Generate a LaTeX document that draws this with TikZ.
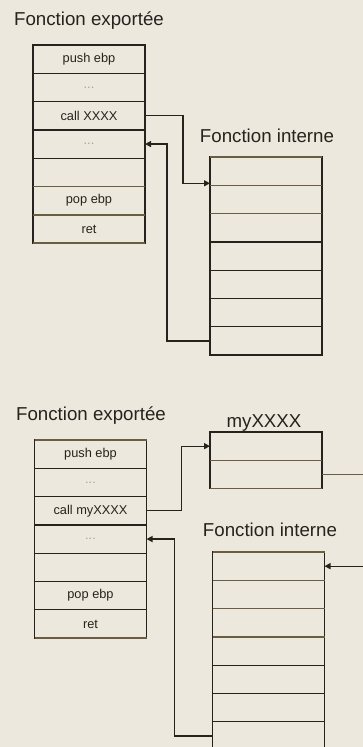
\documentclass[tikz,border=0pt]{standalone}
\usepackage{fontspec}
\setmainfont{Liberation Sans}
\usetikzlibrary{positioning,arrows.meta}

\definecolor{paper}{HTML}{ECE8DE}
\definecolor{ink}{HTML}{26231E}
\definecolor{tan}{HTML}{6B5C42}
\definecolor{faded}{HTML}{A9A59C}

\newcommand{\cellgap}{\textcolor{faded}{...}}

\tikzset{
    cell/.style={draw=ink, line width=1.3pt, minimum width=112pt, minimum height=28.3pt,
        inner sep=0pt, outer sep=0pt, text=ink, font=\fontsize{12.8}{14}\selectfont},
    title/.style={anchor=base, text=ink, font=\fontsize{18.7}{20}\selectfont},
    rule/.style={draw=tan, line width=1.4pt},
    call/.style={draw=ink, line width=1.3pt, -{Triangle[length=6pt,width=6pt]}},
}

\begin{document}
\begin{tikzpicture}[x=1pt, y=-1pt]
    \useasboundingbox (0,0) rectangle (363,747);
    \fill[paper] (0,0) rectangle (363,747);
    \clip (0,0) rectangle (363,747);

    % Top: exported function calling the internal one directly
    \node[title] (exp1) at (89,25) {Fonction exportée};
    \node[cell] (fe1) at (89,59.15) {push ebp};
    \foreach \t [count=\i from 2, remember=\i as \j (initially 1)] in
        {\cellgap, call XXXX, \cellgap, {}, pop ebp, ret}
        \node[cell, below=0pt of fe\j] (fe\i) {\t};

    \node[title] (int1) at (267,142) {Fonction interne};
    \node[cell] (fi1) at (266,171.15) {};
    \foreach \i [remember=\i as \j (initially 1)] in {2,...,7}
        \node[cell, below=0pt of fi\j] (fi\i) {};

    \draw[call] (fe3.east) -- ++(38,0) |- ([yshift=2pt]fi1.south west);
    \draw[call] (fi7.west) -- ++(-43,0) |- (fe4.east);

    % Bottom: same call, now routed through myXXXX
    \node[title] (exp2) at (91,420) {Fonction exportée};
    \node[cell] (be1) at (90.5,454.15) {push ebp};
    \foreach \t [count=\i from 2, remember=\i as \j (initially 1)] in
        {\cellgap, call myXXXX, \cellgap, {}, pop ebp, ret}
        \node[cell, below=0pt of be\j] (be\i) {\t};

    \node[title] (hook) at (264,427) {myXXXX};
    \node[cell] (my1) at (266,446.15) {};
    \node[cell, below=0pt of my1] (my2) {};

    \node[title] (int2) at (270,536) {Fonction interne};
    \node[cell] (bi1) at (268.5,566.15) {};
    \foreach \i [remember=\i as \j (initially 1)] in {2,...,7}
        \node[cell, below=0pt of bi\j] (bi\i) {};

    \draw[call] (be3.east) -- ++(35,0) |- (my1.west);
    \draw[call] (my2.east) -- ++(60,0) |- (bi1.east);
    \draw[call] (bi7.west) -- ++(-38,0) |- (be4.east);

    % lighter printed rules
    \foreach \n in {fe5, fe6, fe7, fi1, fi2, be7, my1, my2, bi1, bi2, bi3}
        \draw[rule] (\n.south west) -- (\n.south east);
    \foreach \n in {fi1, be1, bi1}
        \draw[rule] (\n.north west) -- (\n.north east);
    \draw[rule] (my2.east) -- ++(60,0);
\end{tikzpicture}
\end{document}
